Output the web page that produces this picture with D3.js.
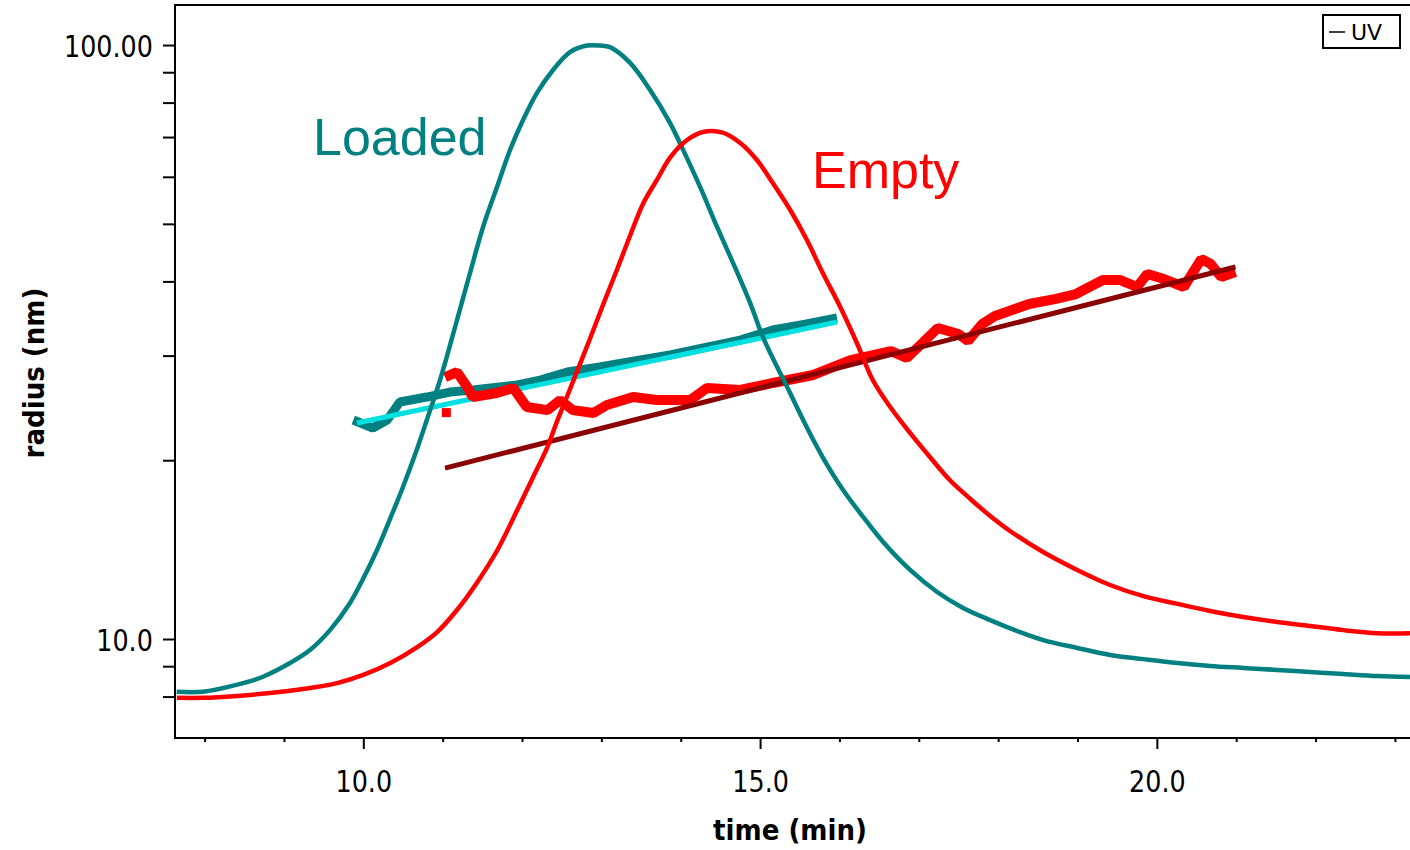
<!DOCTYPE html>
<html>
<head>
<meta charset="utf-8">
<script src="https://cdn.jsdelivr.net/npm/d3@7"></script>
<style>
  html, body { margin: 0; padding: 0; background: #fff; }
  svg { display: block; }
</style>
</head>
<body>
<svg id="chart" width="1410" height="850"></svg>
<script>
// ---------------- data ----------------
const xDomain = [7.627, 23.19];
const yDomain = [6.813, 116.79];
const xMajorTicks = [10, 15, 20];
const xMajorLabels = ["10.0", "15.0", "20.0"];
const xMinorTicks = [8, 9, 11, 12, 13, 14, 16, 17, 18, 19, 21, 22, 23];
const yTicks = [8, 9, 10, 20, 30, 40, 50, 60, 70, 80, 90, 100];
const yLabelValues = [10, 100];
const yLabelTexts = ["10.0", "100.00"];

// UV trace, Loaded sample (teal)
const uvLoadedTime = [7.648, 7.98, 8.40, 8.736, 9.076, 9.328, 9.58, 9.832, 9.996, 10.173, 10.336, 10.50, 10.677, 10.80, 10.967, 11.181, 11.345, 11.509, 11.685, 11.849, 12.013, 12.189, 12.391, 12.605, 12.819, 12.983, 13.109, 13.362, 13.614, 13.866, 14.03, 14.244, 14.458, 14.66, 14.874, 15.038, 15.215, 15.341, 15.593, 15.795, 16.046, 16.299, 16.551, 16.891, 17.231, 17.559, 17.899, 18.277, 18.567, 18.996, 19.412, 19.828, 20.256, 20.672, 21.088, 21.517, 21.933, 22.349, 22.778, 23.19];
const uvLoadedValue = [8.15, 8.15, 8.37, 8.64, 9.11, 9.58, 10.35, 11.50, 12.62, 14.12, 15.92, 18.03, 20.89, 23.37, 27.29, 34.44, 41.33, 49.39, 57.68, 66.56, 74.77, 83.05, 90.77, 97.3, 99.8, 99.8, 99.2, 93.3, 84.0, 73.9, 66.6, 57.7, 49.4, 42.95, 36.8, 32.2, 28.7, 26.56, 22.66, 20.17, 17.82, 16.05, 14.57, 13.07, 12.00, 11.28, 10.76, 10.27, 9.96, 9.66, 9.40, 9.25, 9.11, 9.01, 8.94, 8.87, 8.80, 8.73, 8.66, 8.63];

// UV trace, Empty sample (red)
const uvEmptyTime = [7.65, 7.98, 8.41, 8.82, 9.24, 9.67, 10.0, 10.34, 10.68, 10.93, 11.18, 11.43, 11.69, 11.94, 12.14, 12.32, 12.44, 12.57, 12.86, 13.02, 13.20, 13.36, 13.53, 13.70, 13.87, 14.08, 14.28, 14.53, 14.75, 14.96, 15.16, 15.38, 15.59, 15.79, 16.01, 16.22, 16.42, 16.64, 16.89, 17.14, 17.39, 17.65, 17.90, 18.15, 18.567, 18.996, 19.41, 19.83, 20.26, 20.67, 21.09, 21.52, 21.93, 22.35, 22.78, 23.19];
const uvEmptyValue = [7.96, 7.96, 8.02, 8.11, 8.24, 8.43, 8.70, 9.11, 9.69, 10.27, 11.19, 12.43, 14.12, 16.49, 18.74, 21.05, 23.23, 25.65, 32.12, 36.5, 41.97, 47.7, 54.20, 59.27, 64.77, 69.20, 71.38, 71.2, 68.39, 64.03, 58.59, 52.76, 46.96, 41.33, 36.23, 31.50, 27.29, 24.58, 22.23, 20.25, 18.52, 17.21, 16.11, 15.20, 14.01, 13.07, 12.33, 11.81, 11.46, 11.15, 10.89, 10.68, 10.52, 10.35, 10.23, 10.23];

// radius, Loaded (dark teal) and its fit (cyan)
const radLoadedTime = [9.874, 10.12, 10.30, 10.46, 10.80, 11.09, 11.38, 11.94, 12.23, 12.57, 12.98, 13.49, 13.87, 14.33, 14.75, 15.16, 15.57, 15.97];
const radLoadedValue = [23.37, 22.66, 23.37, 25.06, 25.55, 26.05, 26.26, 26.77, 27.29, 28.15, 28.70, 29.49, 30.07, 31.01, 31.86, 33.13, 33.90, 34.71];
const fitLoadedTime = [9.92, 15.97];
const fitLoadedValue = [23.1, 34.17];

// radius, Empty (red) and its fit (dark red)
const radEmptyTime = [11.03, 11.18, 11.31, 11.38, 11.68, 11.89, 12.06, 12.32, 12.48, 12.64, 12.90, 13.07, 13.40, 13.70, 14.12, 14.33, 14.75, 15.16, 15.67, 16.14, 16.65, 16.85, 17.24, 17.50, 17.62, 17.80, 17.96, 18.14, 18.39, 18.73, 18.98, 19.32, 19.54, 19.75, 19.88, 20.09, 20.34, 20.56, 20.68, 20.81, 20.99];
const radEmptyValue = [27.61, 28.15, 26.56, 25.55, 25.95, 26.46, 24.58, 24.29, 25.25, 24.29, 24.01, 24.77, 25.55, 25.25, 25.25, 26.46, 26.26, 26.98, 27.83, 29.49, 30.53, 29.72, 33.39, 32.62, 31.74, 33.90, 34.98, 35.67, 36.65, 37.37, 38.09, 40.21, 40.21, 39.14, 41.17, 40.37, 39.14, 43.62, 42.79, 40.69, 41.48];
const radEmptyOutlierTime = [11.04];
const radEmptyOutlierValue = [24.1];
const fitEmptyTime = [11.03, 20.99];
const fitEmptyValue = [19.4, 42.3];

const seriesLabels = ["Loaded", "Empty"];
const legendLabel = "UV";
const xTitle = "time (min)";
const yTitle = "radius (nm)";

// ---------------- chart ----------------
const svg = d3.select("#chart");
const L = 175, T = 5, R = 1410, B = 738;

const x = d3.scaleLinear().domain(xDomain).range([L, R]);
const y = d3.scaleLog().domain(yDomain).range([B, T]);

const zip = (ts, vs) => ts.map((t, i) => [t, vs[i]]);
const line = d3.line().x(d => x(d[0])).y(d => y(d[1]));
const smooth = d3.line().x(d => x(d[0])).y(d => y(d[1])).curve(d3.curveCatmullRom.alpha(0.5));

svg.append("defs").append("clipPath").attr("id", "plotclip")
  .append("rect").attr("x", L).attr("y", T).attr("width", R - L).attr("height", B - T);
const g = svg.append("g").attr("clip-path", "url(#plotclip)");

// radius loaded
g.append("path").datum(zip(radLoadedTime, radLoadedValue))
  .attr("d", line).attr("fill", "none").attr("stroke", "#008080").attr("stroke-width", 9)
  .attr("stroke-linejoin", "bevel");
g.append("path").datum(zip(fitLoadedTime, fitLoadedValue))
  .attr("d", line).attr("fill", "none").attr("stroke", "#00e0e0").attr("stroke-width", 5);

// radius empty
g.append("path").datum(zip(radEmptyTime, radEmptyValue))
  .attr("d", line).attr("fill", "none").attr("stroke", "#ff0000").attr("stroke-width", 10)
  .attr("stroke-linejoin", "bevel");
g.selectAll("rect.outlier").data(zip(radEmptyOutlierTime, radEmptyOutlierValue)).join("rect")
  .attr("class", "outlier")
  .attr("x", d => x(d[0]) - 4).attr("y", d => y(d[1]) - 4).attr("width", 9).attr("height", 9)
  .attr("fill", "#ff0000");
g.append("path").datum(zip(fitEmptyTime, fitEmptyValue))
  .attr("d", line).attr("fill", "none").attr("stroke", "#8b0000").attr("stroke-width", 5);

// UV traces
g.append("path").datum(zip(uvLoadedTime, uvLoadedValue))
  .attr("d", smooth).attr("fill", "none").attr("stroke", "#008080").attr("stroke-width", 4.5);
g.append("path").datum(zip(uvEmptyTime, uvEmptyValue))
  .attr("d", smooth).attr("fill", "none").attr("stroke", "#ff0000").attr("stroke-width", 4.5);

// frame
svg.append("path")
  .attr("d", `M${R + 2},${T} L${L},${T} L${L},${B} L${R + 2},${B}`)
  .attr("fill", "none").attr("stroke", "#000").attr("stroke-width", 2);

const tickFont = "'DejaVu Sans', sans-serif";

// y axis
const yAxis = d3.axisLeft(y).tickValues(yTicks).tickSize(12)
  .tickFormat(v => { const i = yLabelValues.indexOf(v); return i >= 0 ? yLabelTexts[i] : ""; });
const ya = svg.append("g").attr("transform", `translate(${L},0)`).call(yAxis);
ya.select(".domain").remove();
ya.selectAll(".tick line").attr("stroke", "#000").attr("stroke-width", 2);
ya.selectAll(".tick text").attr("font-family", tickFont).attr("font-size", 31).attr("fill", "#000")
  .attr("x", -27).attr("dy", "0.37em").attr("transform", "scale(0.82,1)");

// x axis minor
const xMinor = d3.axisBottom(x).tickValues(xMinorTicks).tickSize(4).tickFormat("");
const xm = svg.append("g").attr("transform", `translate(0,${B})`).call(xMinor);
xm.select(".domain").remove();
xm.selectAll(".tick line").attr("stroke", "#000").attr("stroke-width", 2);

// x axis major
const xMajor = d3.axisBottom(x).tickValues(xMajorTicks).tickSize(11)
  .tickFormat((v, i) => xMajorLabels[i]);
const xM = svg.append("g").attr("transform", `translate(0,${B})`).call(xMajor);
xM.select(".domain").remove();
xM.selectAll(".tick line").attr("stroke", "#000").attr("stroke-width", 2);
xM.selectAll(".tick text").attr("font-family", tickFont).attr("font-size", 31).attr("fill", "#000")
  .attr("y", 54).attr("dy", 0).attr("transform", "scale(0.82,1)");

// axis titles
svg.append("text").attr("transform", "translate(790,840) scale(0.9,1)").attr("text-anchor", "middle")
  .attr("font-family", tickFont).attr("font-weight", "bold").attr("font-size", 29)
  .text(xTitle);
svg.append("text").attr("transform", "translate(44,373) rotate(-90) scale(0.9,1)").attr("text-anchor", "middle")
  .attr("font-family", tickFont).attr("font-weight", "bold").attr("font-size", 29)
  .text(yTitle);

// series labels
svg.append("text").attr("x", 313).attr("y", 155).attr("font-family", "'Liberation Sans', Arial, sans-serif")
  .attr("font-size", 52).attr("fill", "#008080").text(seriesLabels[0]);
svg.append("text").attr("x", 812).attr("y", 188).attr("font-family", "'Liberation Sans', Arial, sans-serif")
  .attr("font-size", 52).attr("fill", "#ff0000").text(seriesLabels[1]);

// legend
const lg = svg.append("g");
lg.append("rect").attr("x", 1323).attr("y", 15).attr("width", 77).attr("height", 33)
  .attr("fill", "#fff").attr("stroke", "#000").attr("stroke-width", 2);
lg.append("line").attr("x1", 1329).attr("x2", 1345).attr("y1", 32).attr("y2", 32)
  .attr("stroke", "#000").attr("stroke-width", 1.5);
lg.append("text").attr("x", 1351).attr("y", 40).attr("font-family", tickFont)
  .attr("font-size", 22).attr("fill", "#000").text(legendLabel);
</script>
</body>
</html>
